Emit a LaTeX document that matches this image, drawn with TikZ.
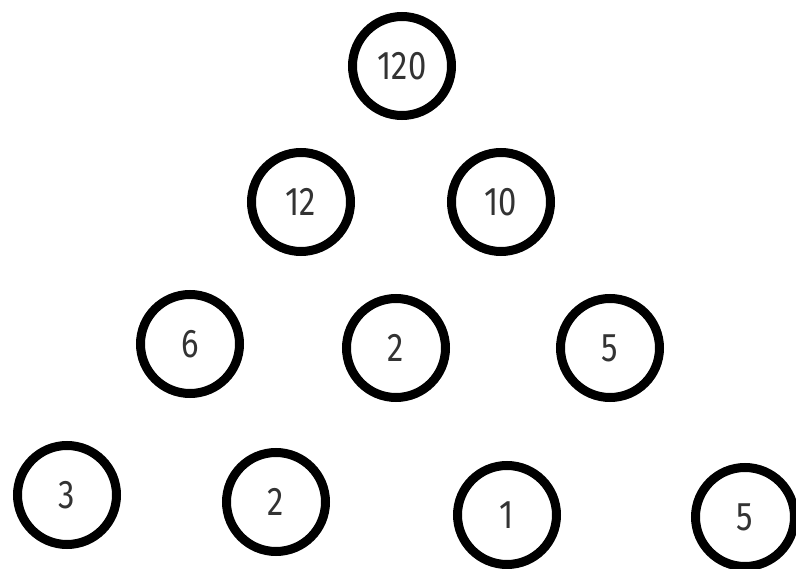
\documentclass[tikz,border=0pt]{standalone}
\usepackage{fontspec}
\newfontfamily\numfont[FakeStretch=0.82]{Fira Sans}
\begin{document}
\begin{tikzpicture}[x=1pt,y=-1pt,
  num/.style={circle,draw=black,line width=9pt,minimum size=99pt,inner sep=0pt,
    text=black!80,font=\numfont\fontsize{40}{44}\selectfont}]
\useasboundingbox[fill=white] (0,0) rectangle (796,569);
\node[num] (n120) at (402,66) {120};
\node[num] (n12) at (301,202) {12};
\node[num] (n10) at (501,202) {10};
\node[num] (n6) at (190,344) {6};
\node[num] (n2a) at (396,348) {2};
\node[num] (n5a) at (610,348) {5};
\node[num] (n3) at (67,495) {3};
\node[num] (n2b) at (276,502) {2};
\node[num] (n1) at (507,515) {1};
\node[num] (n5b) at (745,517) {5};
\end{tikzpicture}
\end{document}
